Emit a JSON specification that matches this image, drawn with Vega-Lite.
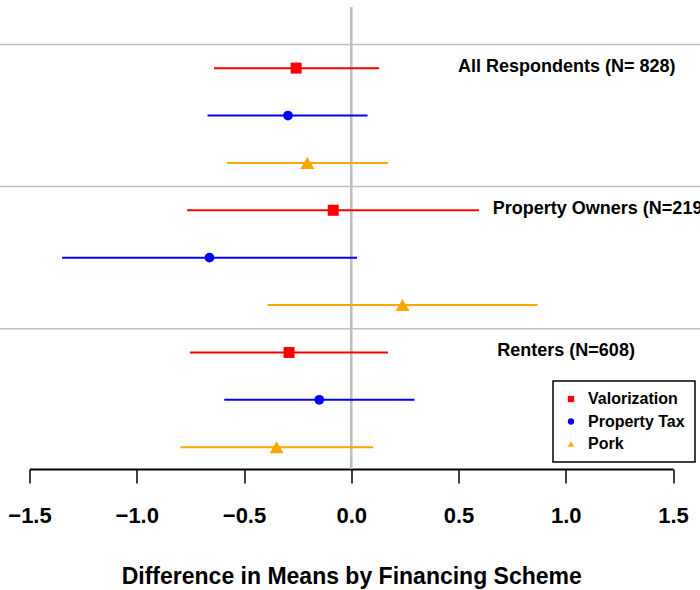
{
  "$schema": "https://vega.github.io/schema/vega-lite/v6.json",
  "width": 643.5,
  "height": 462,
  "autosize": {"type": "none"},
  "padding": {"left": 29.5, "top": 7, "right": 27, "bottom": 121},
  "background": "white",
  "config": {
    "view": {"stroke": null},
    "font": "Liberation Sans",
    "legend": {
      "strokeWidth": 1.5, "orient": "none", "legendX": 523.5, "legendY": 374, "title": null,
      "padding": 10, "strokeColor": "black", "fillColor": "white",
      "labelFontSize": 16, "labelFontWeight": "bold", "labelFont": "Liberation Sans", "labelColor": "black",
      "symbolSize": 40, "rowPadding": 6.5, "labelOffset": 9, "symbolStrokeWidth": 0, "symbolOpacity": 1
    }
  },
  "datasets": {
    "est": [
      {"group": "All Respondents", "scheme": "Valorization", "row": 1, "est": -0.257, "lo": -0.64, "hi": 0.13},
      {"group": "All Respondents", "scheme": "Property Tax", "row": 2, "est": -0.295, "lo": -0.67, "hi": 0.076},
      {"group": "All Respondents", "scheme": "Pork", "row": 3, "est": -0.205, "lo": -0.578, "hi": 0.171},
      {"group": "Property Owners", "scheme": "Valorization", "row": 4, "est": -0.084, "lo": -0.765, "hi": 0.596},
      {"group": "Property Owners", "scheme": "Property Tax", "row": 5, "est": -0.661, "lo": -1.348, "hi": 0.027},
      {"group": "Property Owners", "scheme": "Pork", "row": 6, "est": 0.239, "lo": -0.39, "hi": 0.868},
      {"group": "Renters", "scheme": "Valorization", "row": 7, "est": -0.29, "lo": -0.752, "hi": 0.171},
      {"group": "Renters", "scheme": "Property Tax", "row": 8, "est": -0.149, "lo": -0.592, "hi": 0.295},
      {"group": "Renters", "scheme": "Pork", "row": 9, "est": -0.348, "lo": -0.796, "hi": 0.103}
    ],
    "seps": [
      {"row": 0.5, "x0": -1.64, "x1": 1.63},
      {"row": 3.5, "x0": -1.64, "x1": 1.63},
      {"row": 6.5, "x0": -1.64, "x1": 1.63}
    ],
    "labels": [
      {"label": "All Respondents (N= 828)", "row": 1, "x": 0.498},
      {"label": "Property Owners (N=219)", "row": 4, "x": 0.66},
      {"label": "Renters (N=608)", "row": 7, "x": 0.681}
    ]
  },
  "layer": [
    {
      "data": {"name": "seps"},
      "mark": {"type": "rule", "color": "#bebebe", "strokeWidth": 1.5},
      "encoding": {
        "y": {"field": "row", "type": "quantitative", "scale": {"domain": [-0.29, 9.46], "reverse": true, "nice": false, "zero": false}, "axis": null},
        "x": {"field": "x0", "type": "quantitative", "scale": {"domain": [-1.5, 1.5], "nice": false, "zero": false}, "title": "Difference in Means by Financing Scheme"},
        "x2": {"field": "x1"}
      }
    },
    {
      "data": {"name": "seps"},
      "mark": {"type": "rule", "color": "#bebebe", "strokeWidth": 2},
      "encoding": {
        "x": {"datum": 0, "type": "quantitative", "title": "Difference in Means by Financing Scheme"}
      }
    },
    {
      "data": {"name": "est"},
      "mark": {"type": "rule", "strokeWidth": 2},
      "encoding": {
        "y": {"field": "row", "type": "quantitative", "axis": null},
        "x": {
          "field": "lo", "type": "quantitative",
          "title": "Difference in Means by Financing Scheme",
          "axis": {
            "values": [-1.5, -1.0, -0.5, 0.0, 0.5, 1.0, 1.5],
            "format": ".1f",
            "grid": false,
            "labelFlush": false,
            "domainColor": "black",
            "domainWidth": 2,
            "tickColor": "black",
            "tickWidth": 1.5,
            "tickSize": 14,
            "labelFontSize": 22,
            "labelFontWeight": "bold",
            "labelColor": "black",
            "labelFont": "Liberation Sans",
            "labelPadding": 22,
            "titleFontSize": 23,
            "titleFontWeight": "bold",
            "titleColor": "black",
            "titleFont": "Liberation Sans",
            "titleBaseline": "alphabetic",
            "titleY": 114
          }
        },
        "x2": {"field": "hi"},
        "color": {"field": "scheme", "type": "nominal", "scale": {"domain": ["Valorization", "Property Tax", "Pork"], "range": ["#ff0000", "#0000ff", "#ffa500"]}}
      }
    },
    {
      "data": {"name": "est"},
      "transform": [{"filter": "datum.scheme === 'Valorization'"}],
      "mark": {"type": "point", "filled": true, "opacity": 1, "strokeWidth": 0, "size": 121},
      "encoding": {
        "y": {"field": "row", "type": "quantitative", "axis": null},
        "x": {"field": "est", "type": "quantitative", "title": "Difference in Means by Financing Scheme"},
        "color": {"field": "scheme", "type": "nominal", "scale": {"domain": ["Valorization", "Property Tax", "Pork"], "range": ["#ff0000", "#0000ff", "#ffa500"]}},
        "shape": {"field": "scheme", "type": "nominal", "scale": {"domain": ["Valorization", "Property Tax", "Pork"], "range": ["square", "circle", "triangle-up"]}}
      }
    },
    {
      "data": {"name": "est"},
      "transform": [{"filter": "datum.scheme === 'Property Tax'"}],
      "mark": {"type": "point", "filled": true, "opacity": 1, "strokeWidth": 0, "size": 95},
      "encoding": {
        "y": {"field": "row", "type": "quantitative", "axis": null},
        "x": {"field": "est", "type": "quantitative", "title": "Difference in Means by Financing Scheme"},
        "color": {"field": "scheme", "type": "nominal", "scale": {"domain": ["Valorization", "Property Tax", "Pork"], "range": ["#ff0000", "#0000ff", "#ffa500"]}},
        "shape": {"field": "scheme", "type": "nominal", "scale": {"domain": ["Valorization", "Property Tax", "Pork"], "range": ["square", "circle", "triangle-up"]}}
      }
    },
    {
      "data": {"name": "est"},
      "transform": [{"filter": "datum.scheme === 'Pork'"}],
      "mark": {"type": "point", "filled": true, "opacity": 1, "strokeWidth": 0, "size": 196},
      "encoding": {
        "y": {"field": "row", "type": "quantitative", "axis": null},
        "x": {"field": "est", "type": "quantitative", "title": "Difference in Means by Financing Scheme"},
        "color": {"field": "scheme", "type": "nominal", "scale": {"domain": ["Valorization", "Property Tax", "Pork"], "range": ["#ff0000", "#0000ff", "#ffa500"]}},
        "shape": {"field": "scheme", "type": "nominal", "scale": {"domain": ["Valorization", "Property Tax", "Pork"], "range": ["square", "circle", "triangle-up"]}}
      }
    },
    {
      "data": {"name": "labels"},
      "mark": {"type": "text", "align": "left", "baseline": "middle", "fontSize": 18, "fontWeight": "bold", "font": "Liberation Sans", "color": "black", "dy": -1},
      "encoding": {
        "y": {"field": "row", "type": "quantitative", "axis": null},
        "x": {"field": "x", "type": "quantitative", "title": "Difference in Means by Financing Scheme"},
        "text": {"field": "label"}
      }
    }
  ]
}
